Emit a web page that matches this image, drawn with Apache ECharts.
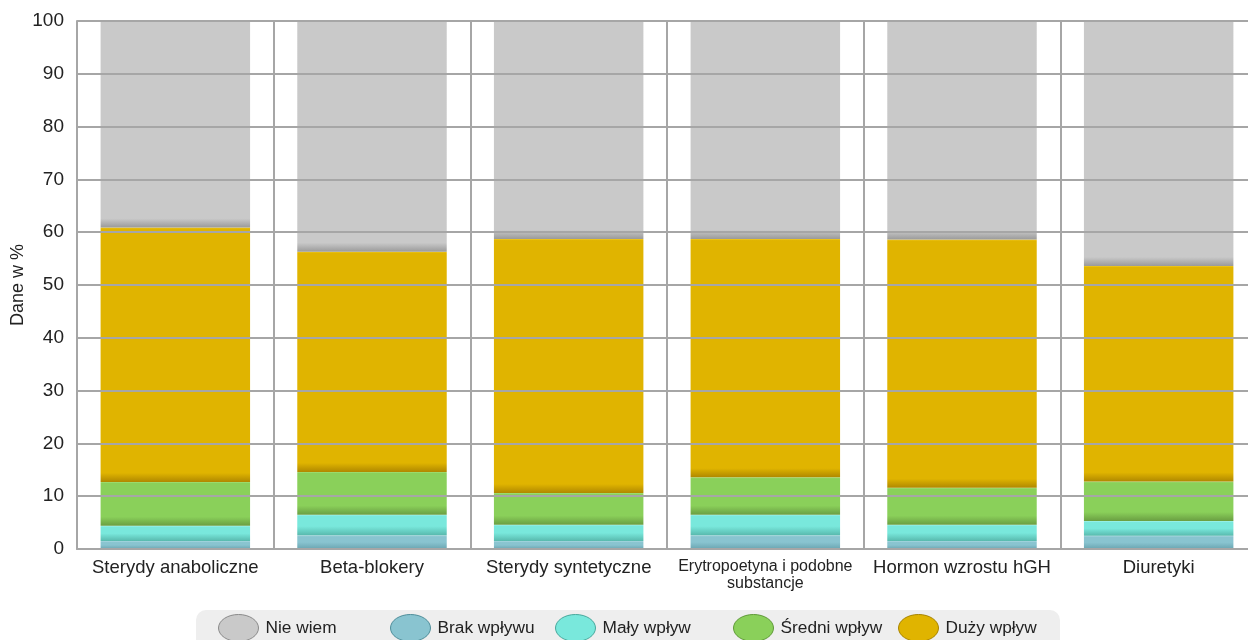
<!DOCTYPE html>
<html>
<head>
<meta charset="utf-8">
<script src="https://cdn.jsdelivr.net/npm/echarts@6/dist/echarts.min.js"></script>
<style>html,body{margin:0;padding:0;background:#fff;overflow:hidden;width:1248px;height:640px}#c{width:1257px;height:640px}</style>
</head>
<body>
<div id="c"></div>
<script>
var categories = ['Sterydy anaboliczne', 'Beta-blokery', 'Sterydy syntetyczne', 'Erytropoetyna i podobne\nsubstancje', 'Hormon wzrostu hGH', 'Diuretyki'];
var yTicks = [0, 10, 20, 30, 40, 50, 60, 70, 80, 90, 100];
var brakWplywu = [1.5, 2.6, 1.5, 2.6, 1.5, 2.5];
var malyWplyw = [2.9, 3.9, 3.1, 3.9, 3.1, 2.8];
var sredniWplyw = [8.3, 8.1, 6.0, 7.1, 7.0, 7.5];
var duzyWplyw = [48.2, 41.7, 48.1, 45.1, 47.0, 40.8];
var nieWiem = [39.1, 43.7, 41.3, 41.3, 41.4, 46.4];
var seriesNames = ['Brak wpływu', 'Mały wpływ', 'Średni wpływ', 'Duży wpływ', 'Nie wiem'];
var legendOrder = ['Nie wiem', 'Brak wpływu', 'Mały wpływ', 'Średni wpływ', 'Duży wpływ'];

var palette = {
  'Nie wiem':    {base: '#c9c9c9', light: '#d6d6d6', dark: '#9a9a9a', border: '#8a8a8a'},
  'Brak wpływu': {base: '#89c4d0', light: '#a6d6df', dark: '#6aa5b1', border: '#4f8e9a'},
  'Mały wpływ':  {base: '#79e8dc', light: '#a0f2ea', dark: '#58b9ad', border: '#48a89c'},
  'Średni wpływ':{base: '#8ad05a', light: '#a3e078', dark: '#6a9e42', border: '#5f9a38'},
  'Duży wpływ':  {base: '#e0b400', light: '#f0c820', dark: '#b08800', border: '#a88400'}
};
var seriesData = [brakWplywu, malyWplyw, sredniWplyw, duzyWplyw, nieWiem];

var pxPerUnit = 528 / 100;
function gradItem(v, p) {
  var h = Math.max(v * pxPerUnit, 1);
  var top = Math.min(1.5 / h, 0.2);
  var band = Math.min(9 / h, 0.5);
  return {
    value: v,
    itemStyle: {
      color: new echarts.graphic.LinearGradient(0, 0, 0, 1, [
        {offset: 0, color: p.light},
        {offset: top, color: p.base},
        {offset: 1 - band, color: p.base},
        {offset: 1, color: p.dark}
      ])
    }
  };
}

var series = seriesNames.map(function (name, i) {
  var p = palette[name];
  return {
    name: name,
    type: 'bar',
    stack: 'all',
    barWidth: '76%',
    z: 1,
    itemStyle: {color: p.base},
    data: seriesData[i].map(function (v) { return gradItem(v, p); })
  };
});

var legendLeft = [218, 390, 555, 733, 898];
var legends = legendOrder.map(function (name, i) {
  var p = palette[name];
  return {
    left: legendLeft[i],
    top: 614,
    padding: 0,
    itemWidth: 40,
    itemHeight: 27,
    itemGap: 0,
    selectedMode: false,
    symbolKeepAspect: false,
    icon: 'path://M0,50 A50,50 0 1,1 100,50 A50,50 0 1,1 0,50 Z',
    textStyle: {fontSize: 17.3, color: '#222', fontFamily: 'Liberation Sans, Arial, sans-serif', padding: [0, 0, 0, 2]},
    data: [{name: name, itemStyle: {color: p.base, borderColor: p.border, borderWidth: 1}}]
  };
});

var chart = echarts.init(document.getElementById('c'), null, {renderer: 'canvas'});
chart.setOption({
  animation: false,
  textStyle: {fontFamily: 'Liberation Sans, Arial, sans-serif'},
  graphic: [{
    type: 'rect', z: -10,
    shape: {x: 196, y: 610, width: 864, height: 44, r: 10},
    style: {fill: '#eeeeee'}
  }],
  legend: legends,
  grid: {left: 77, right: 0, top: 21, bottom: 91, containLabel: false, outerBoundsMode: 'none'},
  xAxis: {
    type: 'category',
    data: categories.map(function (c) {
      return c.indexOf('\n') >= 0 ? {value: c, textStyle: {fontSize: 16, lineHeight: 17}} : c;
    }),
    axisLine: {show: true, lineStyle: {color: '#a6a6a6', width: 2}},
    axisTick: {show: false},
    splitLine: {show: true, interval: 0, lineStyle: {color: '#a6a6a6', width: 2}},
    axisLabel: {interval: 0, fontSize: 18.5, color: '#222', margin: 9, lineHeight: 20}
  },
  yAxis: {
    type: 'value',
    min: yTicks[0], max: yTicks[yTicks.length - 1], interval: 10,
    z: 5,
    name: 'Dane w %',
    nameLocation: 'middle',
    nameRotate: 90,
    nameGap: 50,
    nameMoveOverlap: false,
    nameTextStyle: {fontSize: 18, color: '#222'},
    axisLine: {show: true, lineStyle: {color: '#a6a6a6', width: 2}},
    axisTick: {show: false},
    splitLine: {show: true, lineStyle: {color: '#a6a6a6', width: 2}},
    axisLabel: {fontSize: 19, color: '#222', margin: 13}
  },
  series: series
});
</script>
</body>
</html>
